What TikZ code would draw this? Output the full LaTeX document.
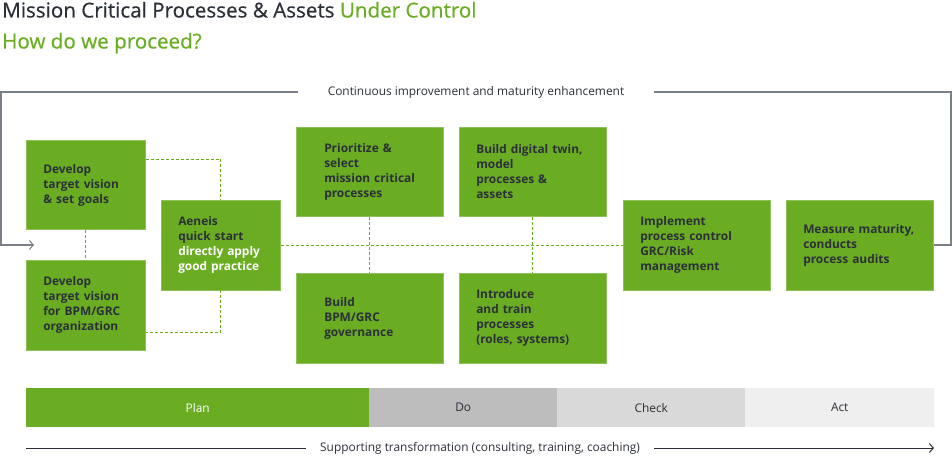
\documentclass[tikz,border=0pt]{standalone}
\usepackage{fontspec}
\setmainfont{Open Sans}
\newfontfamily\headfont{Open Sans}[FakeBold=0.6]
\usetikzlibrary{positioning,arrows.meta}
\definecolor{leaf}{HTML}{6AAD23}
\definecolor{ink}{HTML}{2B3038}
\definecolor{slate}{HTML}{7A8086}
\definecolor{dobar}{HTML}{BDBDBD}
\definecolor{checkbar}{HTML}{D9D9D9}
\definecolor{actbar}{HTML}{EFEFEF}
\newcommand{\Title}{\headfont\fontsize{20.6}{24}\selectfont}
\newcommand{\Boxfont}{\fontsize{11.9}{15}\selectfont\bfseries}
\newcommand{\Small}{\fontsize{11.9}{14}\selectfont}

\tikzset{
  stepbox/.style={fill=leaf, draw=leaf!75!white, line width=0.5pt, anchor=north west, text=ink,
    align=left, font=\Boxfont, inner xsep=17pt, inner ysep=0pt, minimum height=89.5pt},
  narrow/.style={stepbox, text width=85pt},
  wide/.style={stepbox, text width=113pt},
  deep/.style={stepbox, inner xsep=28pt, text width=91pt},
  link/.style={leaf, dash pattern=on 3pt off 2pt, line width=0.7pt},
  loopline/.style={slate, line width=1.1pt},
  phase/.style={anchor=north west, minimum height=39pt, inner sep=0pt, font=\Small},
  barb/.style={-{Straight Barb[length=4pt,width=9pt,line width=1pt]}},
}

\begin{document}
\begin{tikzpicture}[x=1pt,y=-1pt]
  \useasboundingbox (0,0) rectangle (952,462);
  % headline
  \node[anchor=base west, inner sep=0pt, font=\Title, text=ink] (title) at (2,17.5)
    {Mission Critical Processes \& Assets \textcolor{leaf}{Under Control}};
  \node[anchor=base west, inner sep=0pt, font=\Title, text=leaf] (subtitle) at (2,48.5) {How do we proceed?};

  % steps
  \node[narrow] (vision) at (26,140) {Develop\\target vision\\\& set goals};
  \node[narrow] (orga) at (26,260) {Develop\\target vision\\for BPM/GRC\\organization};
  \node[narrow] (quick) at (161,200) {Aeneis\\quick start\\\textcolor{white}{directly apply}\\\textcolor{white}{good practice}};
  \node[deep] (prio) at (296,127) {Prioritize \&\\select\\mission critical\\processes};
  \node[deep] (gov) at (296,273) {Build\\BPM/GRC\\governance};
  \node[wide] (twin) at (459,127) {Build digital twin,\\model\\processes \&\\assets};
  \node[wide] (train) at (459,273) {Introduce\\and train\\processes\\(roles, systems)};
  \node[wide] (control) at (623,200) {Implement\\process control\\GRC/Risk\\management};
  \node[wide] (audit) at (786,200) {Measure maturity,\\conducts\\process audits};

  % dotted links
  \draw[link] ([yshift=-19pt]vision.north east) -| (quick.north);
  \draw[link] (quick.south) |- ([yshift=18pt]orga.south east);
  \draw[link] (vision.south) -- (orga.north);
  \draw[link] (quick.east) -- (control.west);
  \draw[link] (prio.south) -- (gov.north);
  \draw[link] (twin.south) -- (train.north);

  % improvement loop
  \node[font=\Small, fill=white, text=ink, inner xsep=30pt] (loop) at (476,92)
    {Continuous improvement and maturity enhancement};
  \coordinate (loopne) at (951,92);
  \coordinate (loopnw) at (1,92);
  \coordinate (loopend) at (34,245);
  \draw[loopline] (audit.east) -| (loopne) -- (loop.east);
  \draw[loopline, barb] (loop.west) -- (loopnw) |- (loopend);

  % PDCA bar
  \foreach \x/\w/\c/\tc/\nm in {26/343/leaf/white/Plan, 369/188/dobar/ink/Do,
      557/188/checkbar/ink/Check, 745/189/actbar/ink/Act}{
    \node[phase, fill=\c, text=\tc, minimum width=\w pt] (\nm) at (\x,388) {\nm};}

  % supporting transformation
  \coordinate (supstart) at (26,448);
  \coordinate (supend) at (934,448);
  \node[font=\Small, text=ink, inner xsep=14pt] (support) at (480,448)
    {Supporting transformation (consulting, training, coaching)};
  \draw[ink, line width=0.8pt] (supstart) -- (support.west);
  \draw[ink, line width=0.8pt, barb] (support.east) -- (supend);
\end{tikzpicture}
\end{document}
